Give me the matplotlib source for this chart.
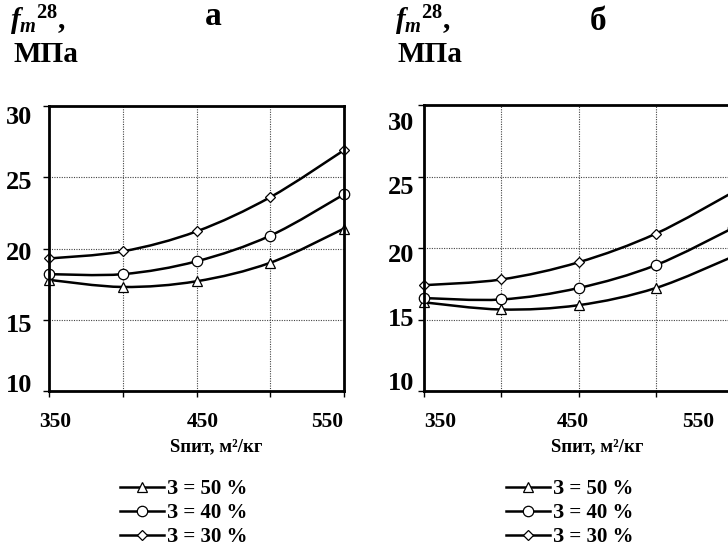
import matplotlib
matplotlib.use("Agg")
import matplotlib.pyplot as plt
from matplotlib.path import Path
from matplotlib.patches import PathPatch
from matplotlib.lines import Line2D

plt.rcParams['font.family'] = ['Liberation Serif', 'DejaVu Serif']
plt.rcParams['font.weight'] = 'bold'
plt.rcParams['mathtext.fontset'] = 'custom'
plt.rcParams['mathtext.it'] = 'Liberation Serif:italic:bold'
plt.rcParams['mathtext.rm'] = 'Liberation Serif:bold'
plt.rcParams['mathtext.bf'] = 'Liberation Serif:bold'

# питома поверхня, м2/кг
s_pit = [350, 400, 450, 500, 550]

# а) міцність, МПа
a_z50 = [17.8, 17.3, 17.7, 19.0, 21.4]
a_z40 = [18.2, 18.2, 19.1, 20.9, 23.8]
a_z30 = [19.3, 19.8, 21.2, 23.6, 26.9]

# б) міцність, МПа
b_z50 = [16.2, 15.7, 16.0, 17.2, 19.4]
b_z40 = [16.5, 16.4, 17.2, 18.8, 21.4]
b_z30 = [17.4, 17.8, 19.0, 21.0, 23.9]

labels = ['З = 50 %', 'З = 40 %', 'З = 30 %']
markers = ['^', 'o', 'D']
msizes = [7, 7.5, 5.5]

y_ticks = [10, 15, 20, 25, 30]
x_ticks = [350, 400, 450, 500, 550]
x_labeled = [350, 450, 550]

W, H = 728, 549
fig = plt.figure(figsize=(W / 100, H / 100), dpi=100)


def px(x, y):
    return x / W, 1 - y / H


def smooth_path(xs, ys):
    # згладжена лінія (сплайн Кетмулла-Рома у вигляді кривих Безьє)
    pts = list(zip(xs, ys))
    verts = [pts[0]]
    codes = [Path.MOVETO]
    n = len(pts)
    for i in range(n - 1):
        p0 = pts[i - 1] if i > 0 else pts[i]
        p1 = pts[i]
        p2 = pts[i + 1]
        p3 = pts[i + 2] if i + 2 < n else pts[i + 1]
        c1 = (p1[0] + (p2[0] - p0[0]) / 6, p1[1] + (p2[1] - p0[1]) / 6)
        c2 = (p2[0] - (p3[0] - p1[0]) / 6, p2[1] - (p3[1] - p1[1]) / 6)
        verts += [c1, c2, p2]
        codes += [Path.CURVE4] * 3
    return Path(verts, codes)


def panel(rect, series, ylab_shift, xlab_shift, ylab_pad):
    ax = fig.add_axes(rect)
    ax.set_xlim(350, 550)
    ax.set_ylim(10, 30)
    ax.set_xticks(x_ticks)
    ax.set_yticks(y_ticks)
    ax.set_xticklabels([])
    ax.set_yticklabels([])
    ax.tick_params(direction='out', length=4, width=1, color='black')
    ax.grid(True, color='#444444', linestyle=(0, (1, 1.2)), linewidth=0.8)
    for sp in ax.spines.values():
        sp.set_linewidth(2)
        sp.set_zorder(5)

    handles = []
    for ys, lab, mk, ms in zip(series, labels, markers, msizes):
        ax.add_patch(PathPatch(smooth_path(s_pit, ys), fill=False,
                               edgecolor='black', linewidth=1.8, zorder=3))
        ax.plot(s_pit, ys, linestyle='none', marker=mk, markersize=ms,
                markerfacecolor='white', markeredgecolor='black',
                markeredgewidth=0.9, zorder=4, clip_on=False)
        handles.append(Line2D([], [], color='black', linewidth=1.8, marker=mk,
                              markersize=ms, markerfacecolor='white',
                              markeredgecolor='black', markeredgewidth=0.9))

    # підписи осі Y
    for v, dy in zip(y_ticks, ylab_shift):
        ax.annotate(str(v), xy=(0, v), xycoords=('axes fraction', 'data'),
                    xytext=(-ylab_pad, -dy * 0.72), textcoords='offset points',
                    ha='right', va='center', fontsize=19, fontweight='bold')
    # підписи осі X
    for v, dx in zip(x_labeled, xlab_shift):
        ax.annotate(str(v), xy=(v, 0), xycoords=('data', 'axes fraction'),
                    xytext=(dx * 0.72, -22), textcoords='offset points',
                    ha='center', va='center', fontsize=15.5, fontweight='bold')
    return ax, handles


axA, hA = panel([49 / W, 1 - 391 / H, 295 / W, 285 / H],
                [a_z50, a_z40, a_z30],
                [-6, 6, 5, 5, 11], [6, 6, -17], 12)
axB, hB = panel([424 / W, 1 - 391 / H, 309 / W, 286 / H],
                [b_z50, b_z40, b_z30],
                [-7, 0, 7, 11, 18], [16, -6, -35], 7)

# підписи осі X
fig.text(*px(216, 447), 'Sпит, м²/кг', ha='center', va='center', fontsize=13.5,
         fontweight='bold')
fig.text(*px(597, 447), 'Sпит, м²/кг', ha='center', va='center', fontsize=13.5,
         fontweight='bold')

# заголовки
for x0, letter, lx, ly in [(10, 'а', 205, 25), (395, 'б', 590, 30)]:
    fig.text(*px(x0, 29), r'${f_{m}}^{28}$,', ha='left', va='baseline',
             fontsize=21, fontweight='bold')
    fig.text(*px(x0 + 3, 62), 'МПа', ha='left', va='baseline', fontsize=21,
             fontweight='bold')
    fig.text(*px(lx, ly), letter, ha='left', va='baseline', fontsize=24,
             fontweight='bold')

# легенди
for ax, h, x0 in [(axA, hA, 120), (axB, hB, 506)]:
    ax.legend(h, labels, loc='upper left', bbox_to_anchor=px(x0, 479),
              bbox_transform=fig.transFigure, frameon=False,
              prop={'weight': 'bold', 'size': 15}, borderpad=0,
              handlelength=2.1, handletextpad=0.15, labelspacing=0.2,
              borderaxespad=0)

fig.savefig('out.png', dpi=100, facecolor='white')
